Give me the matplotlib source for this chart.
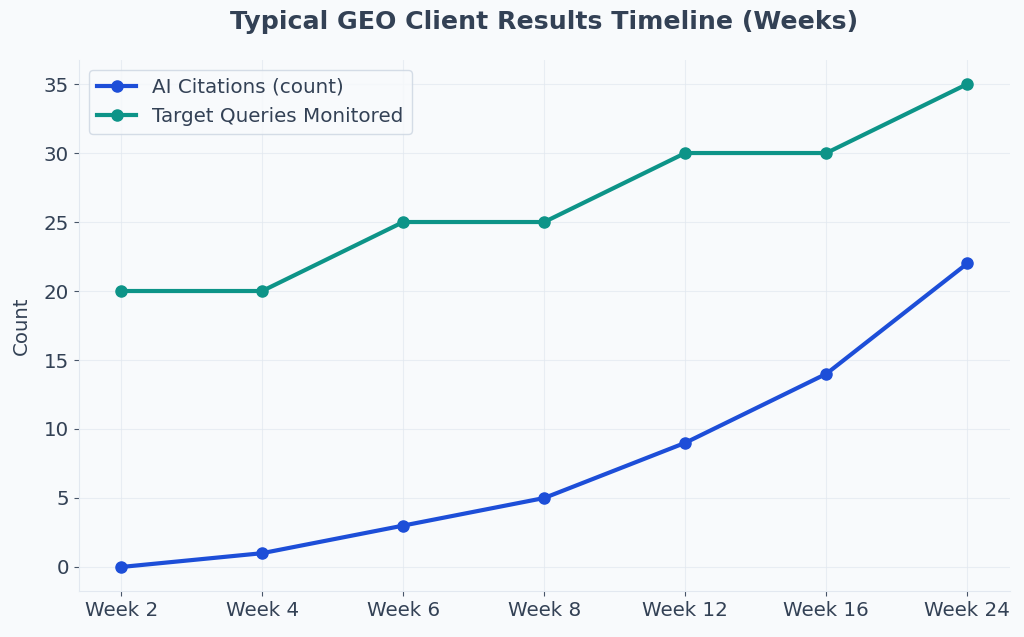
import matplotlib
matplotlib.use("Agg")
import matplotlib.pyplot as plt

plt.rcParams['font.family'] = ['DejaVu Sans']

# dados
semanas = ["Week 2", "Week 4", "Week 6", "Week 8", "Week 12", "Week 16", "Week 24"]
citacoes = [0, 1, 3, 5, 9, 14, 22]
consultas = [20, 20, 25, 25, 30, 30, 35]

fundo = "#f8fafc"
texto = "#334155"

fig, ax = plt.subplots(figsize=(10.24, 6.37), dpi=100)
fig.patch.set_facecolor(fundo)
ax.set_facecolor(fundo)

x = list(range(len(semanas)))
ax.plot(x, citacoes, color="#1d4ed8", linewidth=3, marker="o", markersize=8,
        label="AI Citations (count)")
ax.plot(x, consultas, color="#0d9488", linewidth=3, marker="o", markersize=8,
        label="Target Queries Monitored")

ax.set_xticks(x)
ax.set_xticklabels(semanas)
ax.set_xlim(-0.3, len(semanas) - 0.7)
ax.set_ylabel("Count", fontsize=14.2, color=texto, labelpad=9)
ax.set_title("Typical GEO Client Results Timeline (Weeks)", fontsize=18.2,
             fontweight="bold", color=texto, pad=22)

ax.grid(True, color="#e2e8f0", linewidth=0.8, alpha=0.7)
ax.set_axisbelow(True)
for lado in ["top", "right"]:
    ax.spines[lado].set_visible(False)
for lado in ["left", "bottom"]:
    ax.spines[lado].set_color("#e2e8f0")
ax.tick_params(colors="#475569", labelsize=14.3, labelcolor=texto)

leg = ax.legend(loc="upper left", fontsize=14.3, frameon=True, facecolor=fundo,
                edgecolor="#cbd5e1", labelcolor=texto)

fig.subplots_adjust(left=0.077, right=0.986, top=0.906, bottom=0.072)
fig.savefig("out.png", dpi=100, facecolor=fundo)
